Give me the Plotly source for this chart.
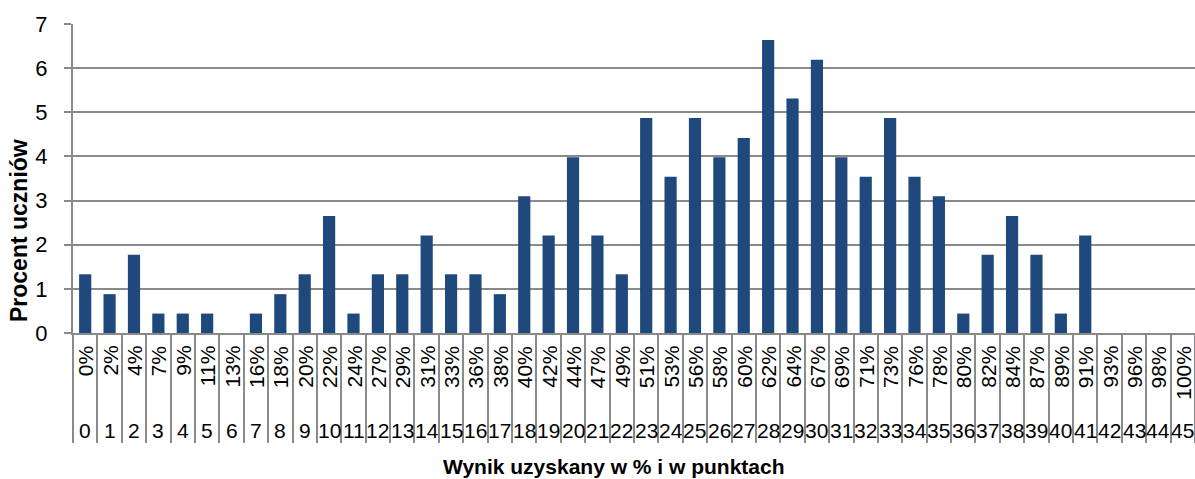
import plotly.graph_objects as go

points = list(range(46))
percent_labels = ["0%", "2%", "4%", "7%", "9%", "11%", "13%", "16%", "18%", "20%",
                  "22%", "24%", "27%", "29%", "31%", "33%", "36%", "38%", "40%", "42%",
                  "44%", "47%", "49%", "51%", "53%", "56%", "58%", "60%", "62%", "64%",
                  "67%", "69%", "71%", "73%", "76%", "78%", "80%", "82%", "84%", "87%",
                  "89%", "91%", "93%", "96%", "98%", "100%"]
point_labels = [str(p) for p in points]
students_pct = [1.33, 0.88, 1.77, 0.44, 0.44, 0.44, 0, 0.44, 0.88, 1.33,
                2.65, 0.44, 1.33, 1.33, 2.21, 1.33, 1.33, 0.88, 3.10, 2.21,
                3.98, 2.21, 1.33, 4.87, 3.54, 4.87, 3.98, 4.42, 6.64, 5.31,
                6.19, 3.98, 3.54, 4.87, 3.54, 3.10, 0.44, 1.77, 2.65, 1.77,
                0.44, 2.21, 0, 0, 0, 0]

FONT = "Arial, Liberation Sans, sans-serif"
GRID = "#8a8a8a"
BAR = "#1F497D"

fig = go.Figure()
fig.add_trace(go.Bar(x=points, y=students_pct, marker=dict(color=BAR, line=dict(width=0)),
                     hoverinfo="skip"))

annotations = []
for p, pl, nl in zip(points, percent_labels, point_labels):
    annotations.append(dict(x=p, y=0, xref="x", yref="y", text=pl, textangle=-90,
                            showarrow=False, xanchor="center", yanchor="top", yshift=-11,
                            font=dict(family=FONT, size=21, color="black")))
    annotations.append(dict(x=p, y=0, xref="x", yref="y", text=nl,
                            showarrow=False, xanchor="center", yanchor="middle", yshift=-97,
                            font=dict(family=FONT, size=21, color="black")))

annotations.append(dict(x=0.482, y=0, xref="paper", yref="paper", text="<b>Wynik uzyskany w % i w punktach</b>",
                        showarrow=False, xanchor="center", yanchor="middle", yshift=-133,
                        font=dict(family=FONT, size=21, color="black")))
annotations.append(dict(x=0, y=0.33, xref="paper", yref="paper", text="<b>Procent uczniów</b>",
                        textangle=-90, showarrow=False, xanchor="center", yanchor="middle", xshift=-54,
                        font=dict(family=FONT, size=23, color="black")))

fig.update_layout(
    width=1195, height=479,
    margin=dict(l=73, r=0, t=24, b=146, autoexpand=False),
    paper_bgcolor="white", plot_bgcolor="white",
    bargap=0.5, showlegend=False,
    font=dict(family=FONT, color="black"),
    annotations=annotations,
)
fig.update_xaxes(range=[-0.5, 45.5], tickmode="array",
                 tickvals=[p - 0.5 for p in points] + [45.5],
                 showticklabels=False, ticks="outside", ticklen=108, tickwidth=2, tickcolor=GRID,
                 showgrid=False, zeroline=False, showline=True, linecolor=GRID, linewidth=2)
fig.update_yaxes(range=[0, 7], dtick=1, tick0=0, showgrid=True, gridcolor=GRID, gridwidth=2,
                 ticks="outside", ticklen=7, tickwidth=2, tickcolor=GRID,
                 showline=True, linecolor=GRID, linewidth=2, zeroline=False,
                 tickfont=dict(family=FONT, size=22, color="black"), ticklabelstandoff=12)

fig.write_html("out.html", config={"displayModeBar": False},
               post_script="document.body.style.margin='0';document.body.style.overflow='hidden';"
                           "document.documentElement.style.overflow='hidden';")
